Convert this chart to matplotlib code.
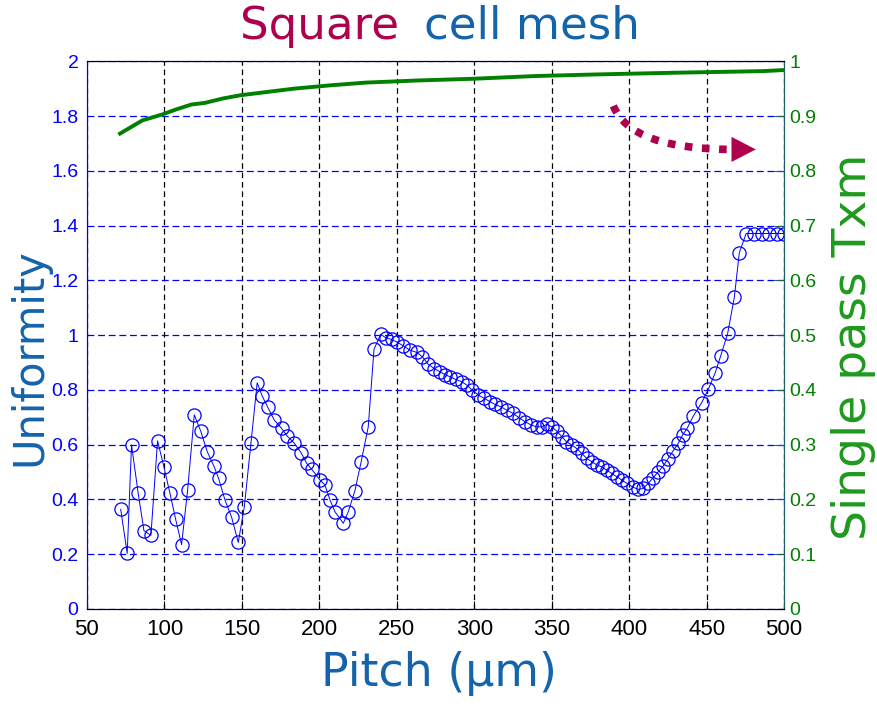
"""
Square cell mesh: uniformity and single pass transmission vs pitch
"""

import matplotlib
matplotlib.use("Agg")
import matplotlib.pyplot as plt
from matplotlib.patches import FancyArrowPatch, ArrowStyle

# Uniformity vs pitch (left axis)
pitch = [71.8, 76.0, 78.8, 83.1, 86.8, 91.3, 95.6, 99.7, 103.6, 107.3,
         111.1, 115.0, 119.3, 123.4, 127.7, 132.0, 135.0, 139.1, 143.4, 147.7,
         151.6, 155.9, 159.9, 163.2, 166.6, 170.9, 175.7, 179.3, 183.6, 188.3,
         191.8, 195.1, 200.4, 203.6, 206.9, 210.1, 215.5, 218.7, 223.0, 227.0,
         231.6, 235.3, 239.6, 243.0, 246.7, 249.9, 254.2, 258.5, 262.8, 266.5,
         270.4, 274.2, 277.9, 281.1, 284.3, 288.0, 291.9, 295.1, 298.8, 302.6,
         306.5, 310.2, 313.4, 317.3, 320.9, 325.2, 328.9, 332.8, 336.6, 340.3,
         343.5, 346.8, 350.0, 353.2, 356.5, 359.5, 362.9, 366.1, 369.4, 372.6,
         375.8, 379.1, 382.3, 385.5, 388.7, 392.0, 395.2, 398.4, 402.7, 405.9,
         409.2, 412.4, 415.6, 418.8, 422.0, 425.0, 428.5, 431.7, 434.5, 437.5,
         441.4, 446.8, 451.1, 455.4, 459.1, 463.6, 467.9, 471.1, 475.5, 480.5,
         485.5, 490.5, 495.5, 500.0]
uniformity = [0.364, 0.203, 0.599, 0.422, 0.286, 0.269, 0.614, 0.519, 0.422, 0.327,
              0.235, 0.434, 0.709, 0.650, 0.574, 0.521, 0.477, 0.398, 0.335, 0.243,
              0.373, 0.607, 0.826, 0.777, 0.738, 0.690, 0.659, 0.631, 0.607, 0.570,
              0.532, 0.510, 0.471, 0.453, 0.398, 0.355, 0.313, 0.355, 0.432, 0.537,
              0.665, 0.948, 1.003, 0.990, 0.984, 0.975, 0.961, 0.945, 0.937, 0.921,
              0.893, 0.878, 0.866, 0.856, 0.848, 0.838, 0.830, 0.818, 0.799, 0.781,
              0.769, 0.757, 0.747, 0.738, 0.726, 0.714, 0.698, 0.684, 0.672, 0.665,
              0.665, 0.674, 0.665, 0.650, 0.629, 0.611, 0.599, 0.586, 0.568, 0.550,
              0.538, 0.526, 0.519, 0.507, 0.495, 0.483, 0.471, 0.459, 0.444, 0.437,
              0.440, 0.459, 0.480, 0.501, 0.522, 0.548, 0.578, 0.605, 0.635, 0.660,
              0.704, 0.753, 0.802, 0.860, 0.924, 1.006, 1.138, 1.300, 1.371, 1.371,
              1.371, 1.371, 1.371, 1.371]

# Single pass transmission vs pitch (right axis)
txm_pitch = [71.4, 85.8, 98.8, 107.5, 117.5, 126.2, 137.7, 149.2, 166.5, 183.8,
             206.9, 229.9, 264.5, 299.1, 339.5, 379.9, 428.9, 486.5, 500.0]
txm = [0.868, 0.892, 0.903, 0.912, 0.921, 0.924, 0.932, 0.938, 0.944, 0.950,
       0.956, 0.961, 0.965, 0.968, 0.973, 0.976, 0.979, 0.982, 0.984]

x_ticks = [50, 100, 150, 200, 250, 300, 350, 400, 450, 500]
left_ticks = [0, 0.2, 0.4, 0.6, 0.8, 1, 1.2, 1.4, 1.6, 1.8, 2]
left_labels = ["0", "0.2", "0.4", "0.6", "0.8", "1", "1.2", "1.4", "1.6", "1.8", "2"]
right_ticks = [0, 0.1, 0.2, 0.3, 0.4, 0.5, 0.6, 0.7, 0.8, 0.9, 1]
right_labels = ["0", "0.1", "0.2", "0.3", "0.4", "0.5", "0.6", "0.7", "0.8", "0.9", "1"]

# curved dotted arrow (in left-axis data units)
arrow_start = (389.8, 1.837)
arrow_bend_end = (466.8, 1.678)
arrow_tip = (481.7, 1.678)

BLUE = "#0000FF"
GREEN = "#008000"
TITLE_BLUE = "#1464AC"
MAROON = "#AE004C"
LABEL_GREEN = "#1E9A1E"

plt.rcParams["font.family"] = ["Liberation Sans Narrow", "Liberation Sans", "DejaVu Sans"]

fig = plt.figure(figsize=(8.78, 7.04), dpi=100)
ax = fig.add_axes([0.099, 0.135, 0.794, 0.778])
ax2 = ax.twinx()

ax.plot(pitch, uniformity, "-o", color=BLUE, mfc="none", ms=9.5, lw=0.7, mew=0.9, zorder=3)
ax2.plot(txm_pitch, txm, color=GREEN, lw=2.8)

ax.set_xlim(50, 500)
ax.set_ylim(0, 2)
ax2.set_ylim(0, 1)
ax.set_xticks(x_ticks)
ax.set_xticklabels([str(t) for t in x_ticks], fontsize=16)
ax.set_yticks(left_ticks)
ax.set_yticklabels(left_labels, fontsize=14, color=BLUE)
ax2.set_yticks(right_ticks)
ax2.set_yticklabels(right_labels, fontsize=14, color=GREEN)

ax.grid(axis="x", color="k", ls=(0, (4.5, 3)), lw=0.9)
ax.grid(axis="y", color=BLUE, ls=(0, (5.5, 3)), lw=0.9)
ax.set_axisbelow(True)

ax.tick_params(axis="x", direction="in", length=6, pad=7, colors="k")
ax.tick_params(axis="y", direction="in", length=0, pad=6, colors=BLUE)
ax2.tick_params(axis="y", direction="in", length=7, pad=4, color="#1F5F5F", labelcolor=GREEN)

for a in (ax, ax2):
    a.spines["left"].set_color(BLUE)
    a.spines["bottom"].set_color("k")
    a.spines["top"].set_color("k")
    a.spines["right"].set_color("#1F5F5F")

# dotted curve, then solid head
curve = FancyArrowPatch(arrow_start, arrow_bend_end, arrowstyle="-",
                        connectionstyle="angle3,angleA=-68,angleB=0",
                        color=MAROON, lw=5.5, linestyle=(0, (1, 1.25)),
                        capstyle="butt", shrinkA=0, shrinkB=0, zorder=5)
ax.add_patch(curve)
head = FancyArrowPatch(arrow_bend_end, arrow_tip,
                       arrowstyle=ArrowStyle("-|>", head_length=1.66, head_width=0.86),
                       mutation_scale=10, color=MAROON, lw=0.5,
                       shrinkA=0, shrinkB=0, zorder=5)
ax.add_patch(head)

fig.text(0.273, 0.945, "Square", fontsize=32.5, color=MAROON, family="DejaVu Sans",
         ha="left", va="baseline")
fig.text(0.483, 0.945, "cell mesh", fontsize=32.5, color=TITLE_BLUE, family="DejaVu Sans",
         ha="left", va="baseline")
fig.text(0.5, 0.043, "Pitch (\u03bcm)", fontsize=33, color=TITLE_BLUE, family="DejaVu Sans",
         ha="center", va="center")
fig.text(0.034, 0.493, "Uniformity", fontsize=30, color=TITLE_BLUE, family="DejaVu Sans",
         rotation=90, ha="center", va="center")
fig.text(0.972, 0.508, "Single pass Txm", fontsize=34, color=LABEL_GREEN, family="DejaVu Sans",
         rotation=90, ha="center", va="center")

fig.savefig("out.png", dpi=100)
